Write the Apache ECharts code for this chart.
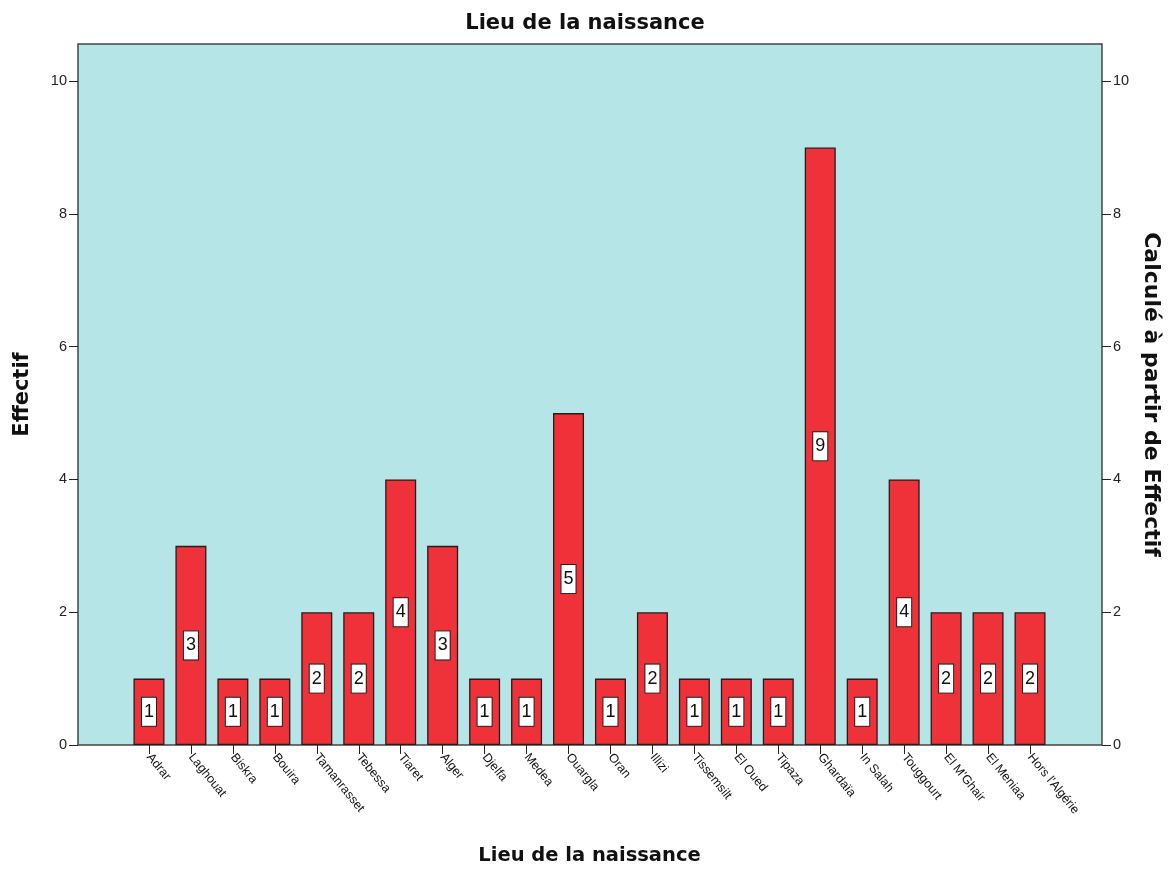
<!DOCTYPE html>
<html>
<head>
<meta charset="utf-8">
<script src="https://cdn.jsdelivr.net/npm/echarts@6/dist/echarts.min.js"></script>
<style>
  html, body { margin: 0; padding: 0; background: #fff; }
  #chart { width: 1170px; height: 872px; }
</style>
</head>
<body>
<div id="chart"></div>
<script>
// Lieu de la naissance — effectifs par wilaya
const categories = ['Adrar', 'Laghouat', 'Biskra', 'Bouira', 'Tamanrasset', 'Tebessa', 'Tiaret', 'Alger',
  'Djelfa', 'Medea', 'Ouargla', 'Oran', 'Illizi', 'Tissemsilt', 'El Oued', 'Tipaza', 'Ghardaïa',
  'In Salah', 'Touggourt', "El M'Ghair", 'El Meniaa', "Hors l'Algérie"];
const counts = [1, 3, 1, 1, 2, 2, 4, 3, 1, 1, 5, 1, 2, 1, 1, 1, 9, 1, 4, 2, 2, 2];
const yTicks = [0, 2, 4, 6, 8, 10];

const FONT = '"Liberation Sans", Arial, sans-serif';
const TITLE_FONT = '"DejaVu Sans", "Liberation Sans", sans-serif';
const Y_MAX = 10.56;

const chart = echarts.init(document.getElementById('chart'), null, { renderer: 'canvas' });

const yAxisCommon = {
  type: 'value',
  gridIndex: 0,
  min: 0,
  max: Y_MAX,
  splitLine: { show: false },
  axisLine: { show: false },
  axisTick: { show: true, length: 9, customValues: yTicks, lineStyle: { color: '#222', width: 1 } },
  axisLabel: { customValues: yTicks, color: '#222', fontSize: 14.5, fontFamily: FONT, margin: 11 },
  nameLocation: 'middle',
  nameTextStyle: { fontSize: 21, fontWeight: 'bold', color: '#111', fontFamily: TITLE_FONT }
};

chart.setOption({
  animation: false,
  backgroundColor: '#ffffff',
  title: {
    text: 'Lieu de la naissance',
    left: 'center',
    top: 8,
    textStyle: { fontSize: 21, fontWeight: 'bold', color: '#111', fontFamily: TITLE_FONT }
  },
  grid: [
    { left: 78, right: 65, top: 44, bottom: 127, show: true, backgroundColor: '#b5e5e6',
      borderColor: '#444', borderWidth: 1.5 },
    { left: 128, right: 119, top: 44, bottom: 127 }
  ],
  xAxis: [
    { type: 'category', gridIndex: 0, data: [''], show: false },
    {
      type: 'category',
      gridIndex: 1,
      data: categories,
      axisLine: { show: false },
      axisTick: { show: true, alignWithLabel: true, length: 9, lineStyle: { color: '#222' } },
      axisLabel: { rotate: -51, interval: 0, fontSize: 12.5, color: '#111', fontFamily: FONT, margin: 10 },
      name: 'Lieu de la naissance',
      nameLocation: 'middle',
      nameGap: 101,
      nameTextStyle: { fontSize: 19.5, fontWeight: 'bold', color: '#111', fontFamily: TITLE_FONT }
    }
  ],
  yAxis: [
    Object.assign({}, yAxisCommon, { position: 'left', name: 'Effectif', nameGap: 45, nameRotate: 90 }),
    Object.assign({}, yAxisCommon, { position: 'right', name: 'Calculé à partir de Effectif', nameGap: 31, nameRotate: -90,
      nameTextStyle: Object.assign({}, yAxisCommon.nameTextStyle, { fontSize: 22 }) }),
    { type: 'value', gridIndex: 1, min: 0, max: Y_MAX, show: false }
  ],
  series: [{
    type: 'bar',
    xAxisIndex: 1,
    yAxisIndex: 2,
    data: counts,
    barWidth: 31,
    itemStyle: { color: '#ef323a', borderColor: '#2a1a1a', borderWidth: 1.3 },
    label: {
      show: true,
      position: 'inside',
      color: '#111',
      fontSize: 18,
      lineHeight: 19,
      fontFamily: FONT,
      backgroundColor: '#ffffff',
      borderColor: '#222',
      borderWidth: 1,
      padding: [5, 2, 4, 2]
    }
  }]
});
</script>
</body>
</html>
